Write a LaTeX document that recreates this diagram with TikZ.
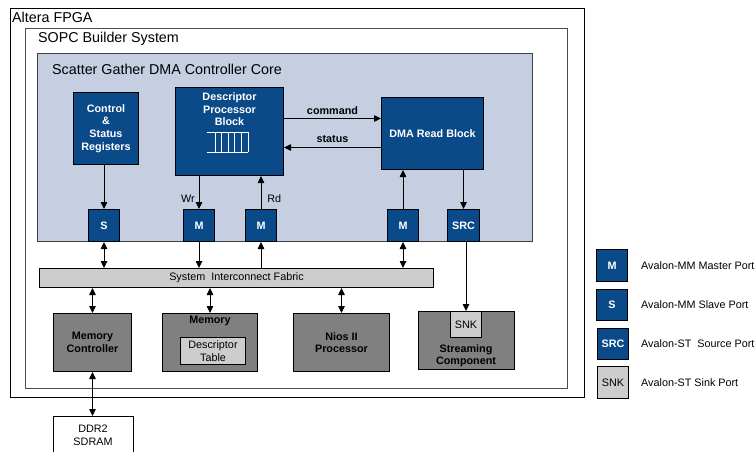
\documentclass[tikz,border=0pt]{standalone}
\usepackage{fontspec}
\setmainfont{Liberation Sans}
\usetikzlibrary{positioning,arrows.meta}
\definecolor{dmablue}{HTML}{0B4A88}
\definecolor{corebg}{HTML}{C5CFE1}
\definecolor{compgray}{HTML}{808080}
\definecolor{fabgray}{HTML}{CDCDCD}

\begin{document}
\begin{tikzpicture}[x=1pt, y=-1pt,
  txt/.style={font=\fontsize{10.8}{12.6}\selectfont, inner sep=0pt, align=center},
  btxt/.style={txt, font=\bfseries\fontsize{10.8}{12.6}\selectfont},
  title/.style={font=\fontsize{14.3}{17}\selectfont, inner sep=0pt, anchor=base west},
  frame/.style={draw=#1, line width=1pt, anchor=north west, inner sep=0pt},
  blk/.style={btxt, draw=black, line width=1pt, fill=dmablue, text=white, anchor=north west},
  port/.style={blk, minimum width=31, minimum height=32},
  comp/.style={btxt, draw=black, line width=1pt, fill=compgray, anchor=north west, minimum height=58},
  lgray/.style={txt, draw=black, line width=1pt, fill=fabgray, anchor=north west},
  arr/.style={-{Triangle[length=7pt,width=6.5pt]}, line width=0.8pt},
  darr/.style={{Triangle[length=7pt,width=6.5pt]}-{Triangle[length=7pt,width=6.5pt]}, line width=0.8pt}
]
\useasboundingbox (0,0) rectangle (756,451);
\clip (0,0) rectangle (756,451);

\node[frame=black, minimum width=574, minimum height=389] (fpga) at (10,8) {};
\node[frame=black!70, minimum width=542, minimum height=360] (sopc) at (25,28) {};
\node[frame=black!75, fill=corebg, minimum width=495, minimum height=188] (core) at (37,53) {};
\node[title] (fpgatitle) at (12,22.5) {Altera FPGA};
\node[title] (sopctitle) at (38,42.5) {SOPC Builder System};
\node[title] (coretitle) at (52,74) {Scatter Gather DMA Controller Core};

\node[blk, minimum width=65, minimum height=72] (csr) at (73,92) {Control\\\&\\Status\\Registers};
\node[blk, minimum width=108, minimum height=88] (desc) at (175,87) {};
\node[btxt, text=white, anchor=north] (desctxt) at ([yshift=-5.5pt]desc.north) {Descriptor\\Processor\\Block};
\draw[white, line width=1pt] (207,132) -- (248,132) (207,152) -- (248,152);
\foreach \qx in {215,221.6,228.2,234.8,241.4,248}
  \draw[white, line width=1pt] (\qx,132) -- (\qx,152);
\node[blk, minimum width=102, minimum height=72] (dma) at (381,97) {DMA Read Block};

\node[port] (sport) at (88,209) {S};
\node[port] (mwr) at (183,209) {M};
\node[port] (mrd) at (245,209) {M};
\node[port] (mdma) at (387,209) {M};
\node[port, minimum width=32] (src) at (447,209) {SRC};

\draw[arr] ([yshift=13pt]desc.east) -- ([yshift=13pt]desc.east -| dma.west) node[btxt, midway, above=4pt] (cmdtxt) {command};
\draw[arr] ([yshift=-16pt]desc.east -| dma.west) -- ([yshift=-16pt]desc.east) node[btxt, midway, above=5pt] (stattxt) {status};
\draw[arr] (sport.north |- csr.south) -- (sport.north);
\draw[arr] (mwr.north |- desc.south) -- (mwr.north) node[txt, pos=0.7, left=4pt] (wrtxt) {Wr};
\draw[arr] (mrd.north) -- (mrd.north |- desc.south) node[txt, pos=0.3, right=6pt] (rdtxt) {Rd};
\draw[arr] (mdma.north) -- (mdma.north |- dma.south);
\draw[arr] (src.north |- dma.south) -- (src.north);

\node[lgray, minimum width=394, minimum height=19] (fabric) at (39,268) {System\ \ Interconnect Fabric};

\node[comp, minimum width=78] (memctl) at (53,313) {Memory\\Controller};
\node[comp, minimum width=95] (mem) at (162,313) {};
\node[btxt, anchor=north] (memtxt) at ([yshift=-3pt]mem.north) {Memory};
\node[lgray, minimum width=65, minimum height=27] (desctab) at (180,337) {Descriptor\\Table};
\node[comp, minimum width=96] (nios) at (293,313) {Nios II\\Processor};
\node[comp, minimum width=96] (stream) at (418,311) {};
\node[lgray, minimum width=31, minimum height=26] (snk) at (450,311) {SNK};
\node[btxt, below=6pt of snk] (streamtxt) {Streaming\\Component};
\node[txt, draw=black, line width=1pt, fill=white, anchor=north, minimum width=80, minimum height=37] (ddr) at (93,416) {DDR2\\SDRAM};

\draw[darr] (sport.south) -- (sport.south |- fabric.north);
\draw[arr] (mwr.south) -- (mwr.south |- fabric.north);
\draw[arr] (mrd.south |- fabric.north) -- (mrd.south);
\draw[darr] (mdma.south) -- (mdma.south |- fabric.north);
\draw[arr] (snk.north |- src.south) -- (snk.north);
\draw[darr] (memctl.north |- fabric.south) -- (memctl.north);
\draw[darr] (mem.north |- fabric.south) -- (mem.north);
\draw[darr] (nios.north |- fabric.south) -- (nios.north);
\draw[darr] (memctl.south) -- (memctl.south |- ddr.north);

\node[port] (lm) at (596,249) {M};
\node[port, minimum height=31] (ls) at (596,289) {S};
\node[port, minimum height=31] (lsrc) at (597,328) {SRC};
\node[lgray, minimum width=31, minimum height=32] (lsnk) at (597,366) {SNK};
\node[txt, right=13pt of lm] (lmtxt) {Avalon-MM Master Port};
\node[txt, right=13pt of ls] (lstxt) {Avalon-MM Slave Port};
\node[txt, right=12pt of lsrc] (lsrctxt) {Avalon-ST\ \ Source Port};
\node[txt, right=12pt of lsnk] (lsnktxt) {Avalon-ST Sink Port};
\end{tikzpicture}
\end{document}
